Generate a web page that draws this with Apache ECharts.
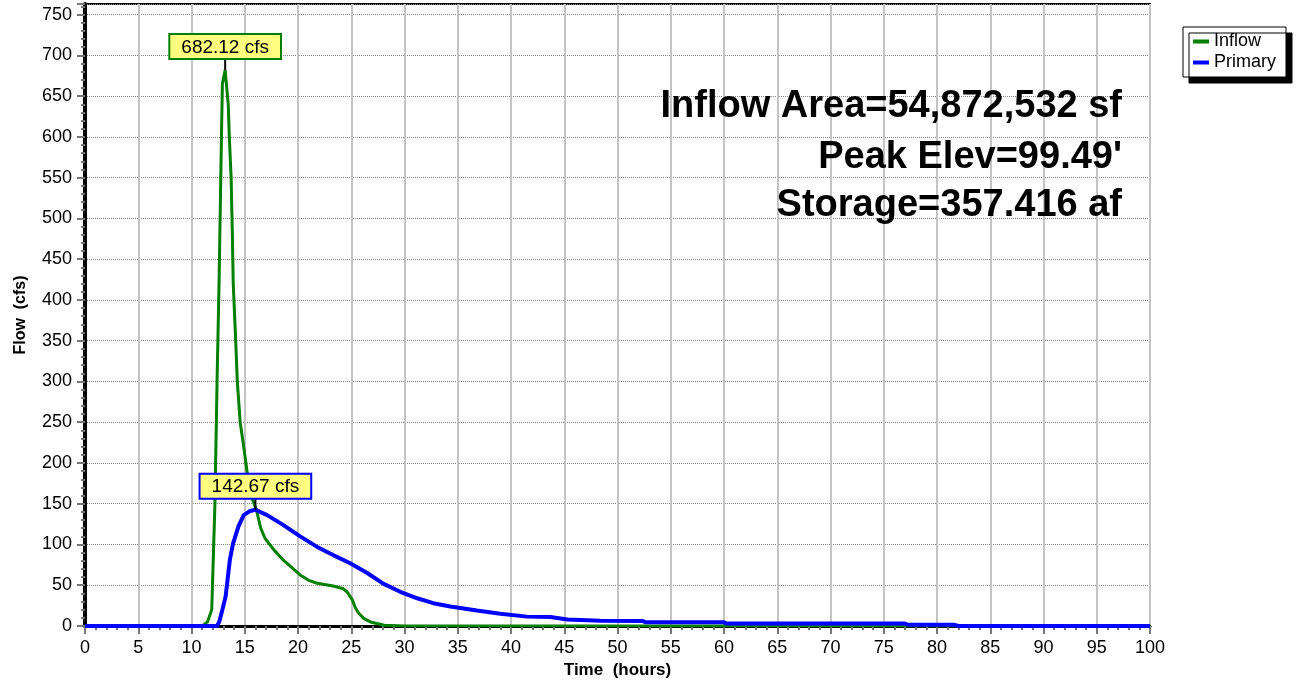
<!DOCTYPE html>
<html>
<head>
<meta charset="utf-8">
<script src="https://cdn.jsdelivr.net/npm/echarts@6/dist/echarts.min.js"></script>
<style>
  html, body { margin: 0; padding: 0; background: #fff; }
  #chart { width: 1296px; height: 684px; }
</style>
</head>
<body>
<div id="chart"></div>
<script>
// hydrograph values (hours, cfs)
const inflowTime = [0, 11.0, 11.5, 11.9, 12.2, 12.4, 12.6, 12.8, 12.9, 13.16, 13.45, 13.55, 13.72, 13.82, 13.92, 14.15, 14.3, 14.57, 14.9, 15.2, 15.6, 16.1, 16.5, 16.9, 17.7, 18.6, 19.4, 20.2, 21.0, 21.8, 23.3, 24.2, 24.6, 25.1, 25.4, 25.7, 26.2, 26.8, 28.1, 30, 100]
const inflowFlow = [0, 0, 5, 20, 150, 300, 430, 590, 665, 682.12, 640, 600, 550, 490, 420, 350, 300, 250, 220, 191, 160, 142, 120, 107.6, 94, 81, 72, 62.6, 56, 52.4, 49, 46, 42, 32, 22, 15.6, 9, 5, 1, 0, 0]

const primaryTime = [0, 12.4, 12.6, 12.9, 13.2, 13.6, 13.9, 14.4, 14.9, 15.5, 16.0, 17.1, 18.6, 20.2, 21.8, 23.3, 24.9, 26.5, 28.0, 29.6, 31.2, 32.7, 34.3, 36.8, 39.0, 41.5, 43.7, 45.3, 48.4, 52.4, 52.6, 60.0, 60.2, 77, 77.3, 81.6, 82, 100]
const primaryFlow = [0, 0, 5, 20, 36, 81, 101, 122, 136, 141, 142.67, 136, 124, 110, 97, 87, 77, 65, 52, 42, 34, 28, 24, 19, 15, 11.5, 11, 8, 6.5, 6, 4.5, 4.5, 3, 3, 1.5, 1.5, 0, 0]

const infoLines = ['Inflow Area=54,872,532 sf', 'Peak Elev=99.49\'', 'Storage=357.416 af']
const infoTop = [88, 139, 187]

const font = 'Liberation Sans, Arial, sans-serif'

function pairs(xs, ys) {
  return xs.map((x, i) => [x, ys[i]])
}

// peak callout: thin black stem with a yellow box on top
function peakMark(border) {
  return {
    symbol: 'rect',
    symbolSize: [2, 12],
    symbolOffset: [0, -6],
    itemStyle: { color: '#000' },
    label: {
      show: true,
      position: 'top',
      distance: 0,
      formatter: p => p.value.toFixed(2) + ' cfs',
      backgroundColor: '#ffff80',
      borderColor: border,
      borderWidth: 2,
      padding: [3, 11, 1, 11],
      fontSize: 19,
      lineHeight: 19,
      fontFamily: font,
      color: '#000',
    },
    data: [{ type: 'max' }],
  }
}

const chart = echarts.init(document.getElementById('chart'))

const option = {
  animation: false,
  backgroundColor: '#fff',
  textStyle: { fontFamily: font },
  grid: {
    left: 85,
    right: 146,
    top: 4,
    bottom: 58,
    outerBoundsMode: 'none',
    containLabel: false,
    show: true,
    borderColor: '#000',
    borderWidth: 2,
    backgroundColor: '#fff',
  },
  legend: {
    orient: 'vertical',
    left: 1183,
    top: 27,
    padding: [5, 10, 5, 10],
    itemGap: 2,
    itemWidth: 16,
    itemHeight: 4,
    icon: 'rect',
    backgroundColor: '#fff',
    borderColor: '#000',
    borderWidth: 1,
    shadowColor: '#000',
    shadowBlur: 0,
    shadowOffsetX: 6,
    shadowOffsetY: 6,
    textStyle: { fontSize: 18, lineHeight: 19, color: '#000', fontFamily: font },
    data: ['Inflow', 'Primary'],
  },
  xAxis: {
    type: 'value',
    min: 0,
    max: 100,
    interval: 5,
    name: 'Time  (hours)',
    nameLocation: 'middle',
    nameGap: 35,
    nameTextStyle: { fontSize: 17, fontWeight: 'bold', color: '#000', fontFamily: font },
    axisLine: { show: true, onZero: false, lineStyle: { color: '#000', width: 3 } },
    axisTick: { show: true, length: 8, lineStyle: { color: '#777', width: 2 } },
    minorTick: { show: true, splitNumber: 5, length: 4, lineStyle: { color: '#777', width: 2 } },
    axisLabel: { fontSize: 18, color: '#000', margin: 13, fontFamily: font },
    splitLine: { show: true, lineStyle: { color: '#c4c4c4', type: 'solid', width: 2 } },
  },
  yAxis: {
    type: 'value',
    min: 0,
    max: 763,
    interval: 50,
    name: 'Flow  (cfs)',
    nameLocation: 'middle',
    nameGap: 56,
    nameTextStyle: { fontSize: 16, fontWeight: 'bold', color: '#000', fontFamily: font },
    axisLine: { show: true, onZero: false, lineStyle: { color: '#000', width: 4 } },
    axisTick: { show: true, length: 8, lineStyle: { color: '#777', width: 2 } },
    minorTick: { show: true, splitNumber: 5, length: 4, lineStyle: { color: '#777', width: 2 } },
    axisLabel: { fontSize: 18, color: '#000', margin: 13, showMaxLabel: false, fontFamily: font },
    splitLine: { show: true, lineStyle: { color: '#888', type: 'dotted', width: 1 } },
  },
  series: [{
    name: 'Inflow',
    type: 'line',
    showSymbol: false,
    color: '#008000',
    lineStyle: { color: '#008000', width: 3 },
    data: pairs(inflowTime, inflowFlow),
    markPoint: peakMark('#008000'),
    z: 3,
  }, {
    name: 'Primary',
    type: 'line',
    showSymbol: false,
    color: '#0000ff',
    lineStyle: { color: '#0000ff', width: 4 },
    data: pairs(primaryTime, primaryFlow),
    markPoint: peakMark('#0000ff'),
    z: 4,
  }],
  graphic: infoLines.map((t, i) => ({
    type: 'text',
    right: 174,
    top: infoTop[i],
    z: 100,
    style: {
      text: t,
      font: 'bold 38px ' + font,
      fill: '#000',
    },
  })),
}

chart.setOption(option)
</script>
</body>
</html>
